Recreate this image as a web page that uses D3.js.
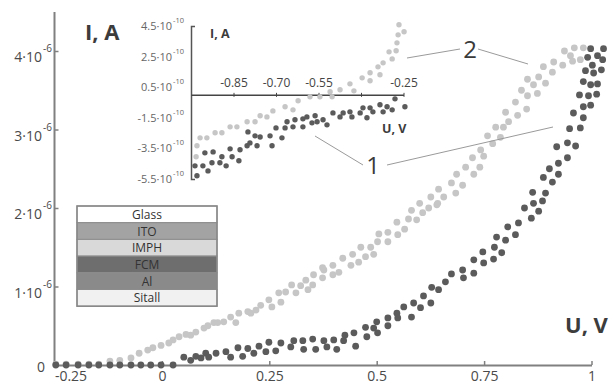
<!DOCTYPE html>
<html>
<head>
<meta charset="utf-8">
<script src="https://cdn.jsdelivr.net/npm/d3@7"></script>
<style>
  html, body { margin: 0; padding: 0; background: #fff; }
  svg { display: block; }
</style>
</head>
<body>
<div id="chart"></div>
<script>
// main plot ticks (I in units of 1e-6 A)
const mainTicksX = [-0.25, 0, 0.25, 0.5, 0.75, 1]
const mainTickLabelsX = ['-0.25', '0', '0.25', '0.5', '0.75', '1']
const mainTicksY = [0, 1, 2, 3, 4]

// inset ticks (I in units of 1e-10 A)
const insetTicksX = [-0.85, -0.70, -0.55, -0.40, -0.25]
const insetTickLabelsX = ['-0.85', '-0.70', '-0.55', '', '-0.25']
const insetTicksY = [4.5, 2.5, 0.5, -1.5, -3.5, -5.5]

const layers = ['Glass', 'ITO', 'IMPH', 'FCM', 'Al', 'Sitall']

// curve 1 (dark), main plot: [U, I·1e6]
const curve1Main = [
  [-0.247, 0], [-0.223, 0], [-0.195, 0], [-0.170, 0], [-0.147, 0], [-0.121, 0],
  [-0.098, 0], [-0.072, 0], [-0.049, 0], [-0.026, 0], [-0.002, 0], [0.026, 0],
  [0.051, 0.10], [0.067, 0.06], [0.079, 0.11], [0.091, 0.09], [0.102, 0.15],
  [0.109, 0.10], [0.126, 0.15], [0.149, 0.17], [0.160, 0.10], [0.177, 0.22],
  [0.188, 0.11], [0.200, 0.21], [0.214, 0.15], [0.226, 0.24], [0.242, 0.17],
  [0.249, 0.29], [0.265, 0.18], [0.277, 0.28], [0.300, 0.23], [0.307, 0.31],
  [0.328, 0.31], [0.330, 0.20], [0.351, 0.33], [0.358, 0.20], [0.377, 0.31],
  [0.384, 0.23], [0.400, 0.32], [0.407, 0.20], [0.426, 0.38], [0.423, 0.31],
  [0.447, 0.41], [0.451, 0.24], [0.474, 0.48], [0.477, 0.36], [0.493, 0.47],
  [0.500, 0.55], [0.502, 0.41], [0.526, 0.60], [0.526, 0.50], [0.547, 0.66],
  [0.549, 0.60], [0.563, 0.74], [0.581, 0.61], [0.586, 0.79], [0.602, 0.73],
  [0.609, 0.88], [0.626, 0.79], [0.628, 0.99], [0.644, 0.96], [0.660, 1.06],
  [0.674, 1.16], [0.700, 1.21], [0.702, 1.11], [0.726, 1.34], [0.726, 1.17],
  [0.747, 1.44], [0.749, 1.30], [0.772, 1.35], [0.774, 1.50], [0.779, 1.63],
  [0.791, 1.43], [0.800, 1.59], [0.805, 1.76], [0.823, 1.66], [0.830, 1.81],
  [0.844, 2.00], [0.860, 1.87], [0.865, 2.06], [0.877, 1.96], [0.886, 2.09],
  [0.893, 2.19], [0.863, 2.20], [0.888, 2.39], [0.909, 2.33], [0.902, 2.50],
  [0.923, 2.43], [0.923, 2.57], [0.944, 2.64], [0.919, 2.78], [0.944, 2.83],
  [0.963, 2.79], [0.949, 3.01], [0.974, 3.02], [0.958, 3.21], [0.981, 3.15],
  [0.981, 3.29], [0.998, 3.31], [0.972, 3.44], [0.993, 3.43], [1.012, 3.45],
  [0.981, 3.61], [0.998, 3.57], [1.014, 3.58], [0.986, 3.75], [1.005, 3.72],
  [1.023, 3.76], [0.991, 3.92], [1.002, 3.82], [1.026, 3.89], [0.998, 4.03],
  [1.014, 3.94], [1.028, 4.03]
]

// curve 2 (light), main plot: [U, I·1e6]
const curve2Main = [
  [-0.247, 0.01], [-0.223, 0.01], [-0.195, 0.01], [-0.170, 0.01], [-0.147, 0.01],
  [-0.121, 0.05], [-0.098, 0.06], [-0.072, 0.09], [-0.053, 0.15], [-0.033, 0.19],
  [-0.021, 0.22], [-0.002, 0.25], [0.016, 0.28], [0.026, 0.32], [0.040, 0.36],
  [0.056, 0.39], [0.067, 0.38], [0.079, 0.42], [0.098, 0.47], [0.107, 0.50],
  [0.121, 0.54], [0.130, 0.54], [0.144, 0.55], [0.160, 0.61], [0.172, 0.54],
  [0.179, 0.66], [0.200, 0.68], [0.207, 0.66], [0.219, 0.70], [0.230, 0.76],
  [0.249, 0.83], [0.256, 0.74], [0.272, 0.92], [0.277, 0.80], [0.288, 0.93],
  [0.302, 1.02], [0.312, 0.92], [0.323, 1.01], [0.335, 1.08], [0.340, 0.96],
  [0.351, 1.02], [0.353, 1.15], [0.374, 1.11], [0.377, 1.21], [0.398, 1.15],
  [0.374, 1.24], [0.398, 1.27], [0.412, 1.18], [0.421, 1.36], [0.440, 1.27],
  [0.444, 1.41], [0.458, 1.31], [0.463, 1.50], [0.474, 1.38], [0.486, 1.50],
  [0.493, 1.41], [0.502, 1.57], [0.505, 1.67], [0.526, 1.69], [0.526, 1.57],
  [0.547, 1.82], [0.549, 1.66], [0.565, 1.73], [0.574, 1.86], [0.581, 1.97],
  [0.593, 1.85], [0.600, 2.06], [0.607, 1.94], [0.621, 2.00], [0.626, 2.14],
  [0.642, 2.06], [0.644, 2.24], [0.656, 2.14], [0.640, 2.04], [0.674, 2.32],
  [0.684, 2.19], [0.686, 2.43], [0.700, 2.29], [0.707, 2.52], [0.726, 2.43],
  [0.723, 2.64], [0.740, 2.52], [0.742, 2.74], [0.749, 2.66], [0.758, 2.92],
  [0.770, 2.82], [0.777, 3.03], [0.788, 2.90], [0.795, 3.03], [0.800, 3.22],
  [0.807, 3.10], [0.823, 3.35], [0.828, 3.18], [0.837, 3.50], [0.849, 3.26],
  [0.851, 3.43], [0.851, 3.64], [0.865, 3.57], [0.874, 3.46], [0.877, 3.67],
  [0.888, 3.80], [0.893, 3.59], [0.909, 3.73], [0.912, 3.86], [0.933, 3.82],
  [0.937, 4.00], [0.951, 3.94], [0.956, 3.87], [0.960, 4.04], [0.974, 3.89],
  [0.981, 4.04]
]

// curve 1 (dark), inset: [U, I·1e10]
const curve1Inset = [
  [-0.986, -4.64], [-0.979, -5.29], [-0.958, -4.64], [-0.940, -4.97], [-0.951, -3.79],
  [-0.922, -3.73], [-0.926, -4.44], [-0.898, -4.44], [-0.891, -4.05], [-0.876, -4.64],
  [-0.855, -4.05], [-0.862, -3.53], [-0.831, -4.31], [-0.827, -3.59], [-0.802, -3.33],
  [-0.799, -2.42], [-0.792, -3.14], [-0.774, -2.68], [-0.767, -3.33], [-0.756, -2.75],
  [-0.721, -2.68], [-0.714, -3.33], [-0.700, -2.16], [-0.679, -2.81], [-0.668, -2.16],
  [-0.661, -1.76], [-0.640, -2.09], [-0.633, -1.63], [-0.605, -1.57], [-0.605, -2.09],
  [-0.591, -1.44], [-0.573, -1.83], [-0.562, -1.37], [-0.555, -1.76], [-0.534, -1.63],
  [-0.520, -1.96], [-0.499, -1.18], [-0.474, -1.44], [-0.463, -1.18], [-0.439, -1.11],
  [-0.432, -1.44], [-0.403, -1.18], [-0.393, -0.85], [-0.379, -1.50], [-0.368, -0.85],
  [-0.358, -1.11], [-0.333, -0.65], [-0.322, -1.11], [-0.308, -0.78], [-0.290, -0.98],
  [-0.280, -0.26], [-0.245, -0.78]
]

// curve 2 (light), inset: [U, I·1e10]
const curve2Inset = [
  [-0.982, -4.05], [-0.979, -3.33], [-0.968, -2.81], [-0.944, -2.81], [-0.915, -2.48],
  [-0.891, -2.48], [-0.862, -2.09], [-0.838, -2.09], [-0.802, -1.76], [-0.774, -1.76],
  [-0.756, -1.37], [-0.732, -1.44], [-0.711, -1.05], [-0.668, -0.78], [-0.640, -0.98],
  [-0.622, -0.39], [-0.580, -0.13], [-0.545, -0.13], [-0.502, -0.13], [-0.509, 0.20],
  [-0.474, 0.33], [-0.439, 0.72], [-0.425, 0.26], [-0.396, 1.11], [-0.368, 1.44],
  [-0.368, 0.92], [-0.340, 1.83], [-0.333, 1.31], [-0.322, 2.09], [-0.301, 2.81],
  [-0.290, 2.35], [-0.276, 2.88], [-0.273, 3.40], [-0.269, 3.92], [-0.248, 4.12],
  [-0.266, 4.58]
]

const layerFills = ['#ffffff', '#a3a3a3', '#d9d9d9', '#6e6e6e', '#8a8a8a', '#f1f1f1']
const darkDot = '#5b5b5b'
const lightDot = '#c6c6c6'
const axisColor = '#808080'
const textColor = '#4a4a4a'
const font = "'Open Sans', 'Noto Sans', sans-serif"

const width = 611
const height = 384

const svg = d3.select('#chart')
  .append('svg')
  .attr('width', width)
  .attr('height', height)
  .style('font-family', font)

// ---- main plot ----
const x = d3.scaleLinear().domain([-0.25, 1]).range([54.5, 591.5])
const y = d3.scaleLinear().domain([0, 4]).range([365, 51])

const axisX = svg.append('g')
  .attr('transform', `translate(0,${y(0)})`)
  .call(d3.axisBottom(x).tickValues(mainTicksX).tickSizeInner(-4).tickSizeOuter(0).tickFormat((d, i) => mainTickLabelsX[i]))
axisX.select('.domain').attr('stroke', axisColor).attr('stroke-width', 2)
axisX.selectAll('.tick line').attr('stroke', axisColor).attr('stroke-width', 1.5)
axisX.selectAll('.tick text')
  .attr('y', 6)
  .attr('dy', '0.71em')
  .attr('fill', textColor)
  .attr('font-size', 14)
  .attr('font-family', font)
// first label sits to the right of the y axis
axisX.selectAll('.tick text').filter((d) => d === -0.25).attr('x', 16)

const axisY = svg.append('g')
  .attr('transform', `translate(${x(-0.25)},0)`)
  .call(d3.axisLeft(y).tickValues(mainTicksY).tickSizeInner(-4).tickSizeOuter(0).tickFormat(''))
axisY.select('.domain').attr('stroke', axisColor).attr('stroke-width', 2).attr('d', `M0,${y(0)}V12`)
axisY.selectAll('.tick line').attr('stroke', axisColor).attr('stroke-width', 1.5)

// y tick labels with exponent
mainTicksY.forEach((v) => {
  const t = svg.append('text')
    .attr('x', v === 0 ? 45 : 42)
    .attr('y', y(v) + (v === 0 ? 7 : 11))
    .attr('text-anchor', 'end')
    .attr('fill', textColor)
    .attr('font-size', 14)
  if (v === 0) {
    t.text('0')
  } else {
    t.text(`${v}·10`)
    svg.append('text')
      .attr('x', 43)
      .attr('y', y(v) + 1)
      .attr('fill', textColor)
      .attr('font-size', 10)
      .text('-6')
  }
})

svg.append('text')
  .attr('x', 85)
  .attr('y', 40)
  .attr('font-size', 22)
  .attr('font-weight', 'bold')
  .attr('fill', '#3c3c3c')
  .text('I, A')

svg.append('text')
  .attr('x', 565)
  .attr('y', 333)
  .attr('font-size', 22)
  .attr('font-weight', 'bold')
  .attr('fill', '#3c3c3c')
  .text('U, V')

svg.append('g')
  .selectAll('circle')
  .data(curve2Main)
  .join('circle')
  .attr('cx', (d) => x(d[0]))
  .attr('cy', (d) => y(d[1]))
  .attr('r', 3.4)
  .attr('fill', lightDot)

svg.append('g')
  .selectAll('circle')
  .data(curve1Main)
  .join('circle')
  .attr('cx', (d) => x(d[0]))
  .attr('cy', (d) => y(d[1]))
  .attr('r', 3.4)
  .attr('fill', darkDot)

// ---- inset ----
const xi = d3.scaleLinear().domain([-1, -0.25]).range([191, 403.5])
const yi = d3.scaleLinear().domain([-5.5, 4.5]).range([179, 26])

const insetY = svg.append('g')
  .attr('transform', `translate(${xi(-1)},0)`)
  .call(d3.axisLeft(yi).tickValues(insetTicksY).tickSize(0).tickSizeOuter(-4).tickFormat(''))
insetY.select('.domain').attr('stroke', '#555').attr('stroke-width', 1.5)

insetTicksY.forEach((v) => {
  svg.append('text')
    .attr('x', 172)
    .attr('y', yi(v) + 4)
    .attr('text-anchor', 'end')
    .attr('fill', '#666')
    .attr('font-size', 11)
    .text(`${v}·10`)
  svg.append('text')
    .attr('x', 173)
    .attr('y', yi(v) - 3)
    .attr('fill', '#666')
    .attr('font-size', 7.5)
    .text('-10')
})

const insetX = svg.append('g')
  .attr('transform', `translate(0,${yi(0)})`)
  .call(d3.axisBottom(xi).tickValues(insetTicksX).tickSizeInner(3).tickSizeOuter(0).tickFormat((d, i) => insetTickLabelsX[i]))
insetX.select('.domain').attr('stroke', '#444').attr('stroke-width', 1.5)
insetX.selectAll('.tick line').attr('stroke', '#444').attr('y1', -2).attr('y2', 2)
insetX.selectAll('.tick text')
  .attr('y', -8)
  .attr('dy', 0)
  .attr('fill', '#444')
  .attr('font-size', 12)
  .attr('font-family', font)

svg.append('text')
  .attr('x', 210)
  .attr('y', 38)
  .attr('font-size', 12.5)
  .attr('font-weight', 'bold')
  .attr('fill', '#3c3c3c')
  .text('I, A')

svg.append('text')
  .attr('x', 382)
  .attr('y', 133)
  .attr('font-size', 12.5)
  .attr('font-weight', 'bold')
  .attr('fill', '#3c3c3c')
  .text('U, V')

svg.append('g')
  .selectAll('circle')
  .data(curve2Inset)
  .join('circle')
  .attr('cx', (d) => xi(d[0]))
  .attr('cy', (d) => yi(d[1]))
  .attr('r', 2.7)
  .attr('fill', lightDot)

svg.append('g')
  .selectAll('circle')
  .data(curve1Inset)
  .join('circle')
  .attr('cx', (d) => xi(d[0]))
  .attr('cy', (d) => yi(d[1]))
  .attr('r', 2.7)
  .attr('fill', darkDot)

// ---- callouts ----
const callouts = [
  { label: '2', tx: 470, ty: 58, lines: [[407, 58, 460, 49], [478, 49, 528, 64]] },
  { label: '1', tx: 373, ty: 174, lines: [[315, 136, 363, 165], [387, 165, 553, 127]] }
]
callouts.forEach((c) => {
  c.lines.forEach(([x1, y1, x2, y2]) => {
    svg.append('line')
      .attr('x1', x1).attr('y1', y1).attr('x2', x2).attr('y2', y2)
      .attr('stroke', '#9a9a9a')
      .attr('stroke-width', 1)
  })
  svg.append('text')
    .attr('x', c.tx)
    .attr('y', c.ty)
    .attr('text-anchor', 'middle')
    .attr('font-size', 24)
    .attr('fill', '#3a3a3a')
    .text(c.label)
})

// ---- layer stack ----
const stack = { x: 77, y: 206, w: 140, row: 16.7 }
const stackG = svg.append('g')
layers.forEach((name, i) => {
  stackG.append('rect')
    .attr('x', stack.x)
    .attr('y', stack.y + i * stack.row)
    .attr('width', stack.w)
    .attr('height', stack.row)
    .attr('fill', layerFills[i])
    .attr('stroke', '#8c8c8c')
    .attr('stroke-width', 1)
  stackG.append('text')
    .attr('x', stack.x + stack.w / 2)
    .attr('y', stack.y + i * stack.row + stack.row / 2 + 4.5)
    .attr('text-anchor', 'middle')
    .attr('font-size', 12)
    .attr('fill', '#333')
    .text(name)
})
stackG.append('rect')
  .attr('x', stack.x)
  .attr('y', stack.y)
  .attr('width', stack.w)
  .attr('height', stack.row * layers.length)
  .attr('fill', 'none')
  .attr('stroke', '#888')
  .attr('stroke-width', 1.5)
</script>
</body>
</html>
